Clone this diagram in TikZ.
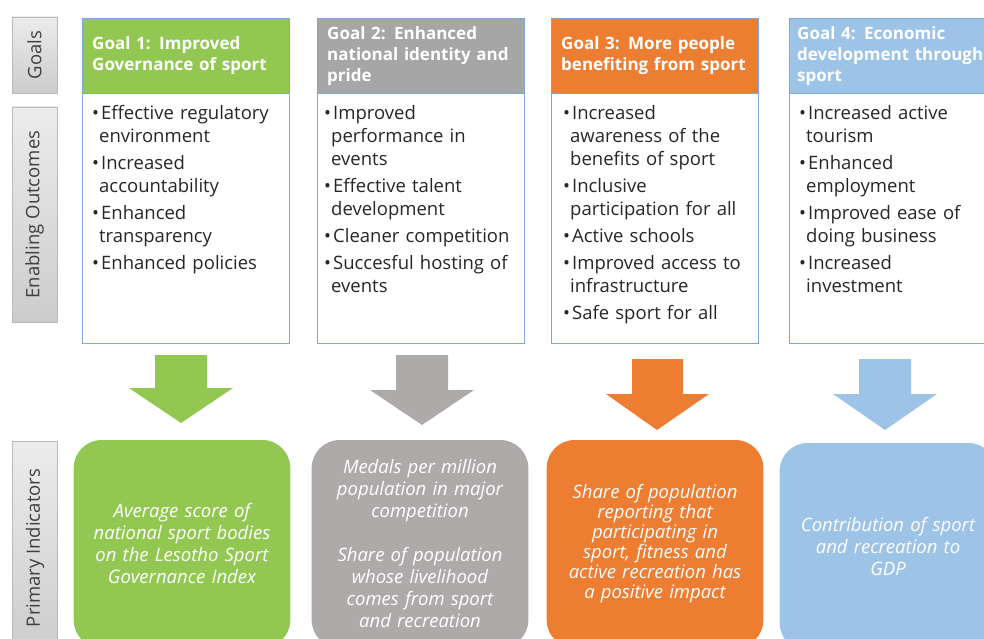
\documentclass[tikz,border=0pt]{standalone}
\usepackage{fontspec}
\setmainfont{Open Sans}
\usetikzlibrary{positioning}

\definecolor{goalgreen}{RGB}{146,200,82}
\definecolor{goalgray}{RGB}{166,166,166}
\definecolor{indgray}{RGB}{174,170,170}
\definecolor{goalorange}{RGB}{237,125,49}
\definecolor{goalblue}{RGB}{157,195,230}
\definecolor{frameblue}{RGB}{125,168,220}
\definecolor{labelgray}{RGB}{64,64,64}

% one bullet of the enabling outcomes
\newcommand{\outitem}[1]{\par\hangindent=7pt\hangafter=1\noindent\textbullet\hspace{2pt}#1\par\vspace{4pt}}

\tikzset{
  sidelabel/.style={draw=gray!55, top color=gray!15, bottom color=gray!40, rotate=90,
    minimum height=45pt, inner sep=0pt, text=labelgray, font=\fontsize{18.5}{20}\selectfont},
  goalhead/.style={draw=frameblue, anchor=north west, minimum width=207pt, minimum height=75pt,
    text width=187pt, inner xsep=10pt, align=left, text=white, font=\fontsize{17}{21}\selectfont\bfseries},
  goalbody/.style={draw=frameblue, anchor=north west, minimum width=207pt, minimum height=250pt, inner sep=0pt},
  outtext/.style={anchor=north west, text width=205pt, inner sep=0pt, text=black!85,
    font=\fontsize{18.5}{23}\selectfont},
  indicator/.style={rounded corners=28pt, minimum width=216pt, minimum height=208pt,
    text width=210pt, align=center, text=white, font=\fontsize{18.5}{22}\selectfont\itshape},
}

\begin{document}
\begin{tikzpicture}[x=1pt, y=1pt]
  \useasboundingbox (0,0) rectangle (984,-639);
  \clip (0,0) rectangle (984,-639);

  % row labels
  \node[sidelabel, minimum width=76pt] (lgoals) at (34.5,-55) {Goals};
  \node[sidelabel, minimum width=215pt] (lout) at (34.5,-214.5) {Enabling Outcomes};
  \node[sidelabel, minimum width=214pt] (lind) at (35,-548) {Primary Indicators};

  % goals
  \node[goalhead, fill=goalgreen] (g1) at (82,-18) {Goal 1: Improved\\Governance of sport};
  \node[goalhead, fill=goalgray] (g2) at (317,-18) {Goal 2: Enhanced\\national identity and\\pride};
  \node[goalhead, fill=goalorange] (g3) at (551,-18) {Goal 3: More people\\benefiting from sport};
  \node[goalhead, fill=goalblue, minimum width=215pt, text width=199pt, inner xsep=8pt] (g4) at (789,-18) {Goal 4: Economic\\development through\\sport};

  % enabling outcomes
  \node[goalbody] (b1) at (82,-93) {};
  \node[goalbody] (b2) at (317,-93) {};
  \node[goalbody] (b3) at (551,-93) {};
  \node[goalbody, minimum width=215pt] (b4) at (789,-93) {};

  \node[outtext, below right=3pt and 10pt of b1.north west] (o1) {%
    \outitem{Effective regulatory\newline environment}
    \outitem{Increased\newline accountability}
    \outitem{Enhanced\newline transparency}
    \outitem{Enhanced policies}};
  \node[outtext, below right=3pt and 7pt of b2.north west] (o2) {%
    \outitem{Improved\newline performance in\newline events}
    \outitem{Effective talent\newline development}
    \outitem{Cleaner competition}
    \outitem{Succesful hosting of\newline events}};
  \node[outtext, below right=3pt and 12pt of b3.north west] (o3) {%
    \outitem{Increased\newline awareness of the\newline benefits of sport}
    \outitem{Inclusive\newline participation for all}
    \outitem{Active schools}
    \outitem{Improved access to\newline infrastructure}
    \outitem{Safe sport for all}};
  \node[outtext, below right=3pt and 10pt of b4.north west] (o4) {%
    \outitem{Increased active\newline tourism}
    \outitem{Enhanced\newline employment}
    \outitem{Improved ease of\newline doing business}
    \outitem{Increased\newline investment}};

  % block arrows
  \fill[goalgreen] (155,-355) -- (207,-355) -- (207,-388) -- (233,-388) -- (181,-423) -- (129,-388) -- (155,-388) -- cycle;
  \fill[indgray] (396,-355) -- (448,-355) -- (448,-390) -- (474,-390) -- (422,-425) -- (370,-390) -- (396,-390) -- cycle;
  \fill[goalorange] (632,-359) -- (683,-359) -- (683,-394) -- (709,-394) -- (657,-430) -- (606,-394) -- (632,-394) -- cycle;
  \fill[goalblue] (859,-359) -- (911,-359) -- (911,-394) -- (937,-394) -- (885,-430) -- (833,-394) -- (859,-394) -- cycle;

  % primary indicators
  \node[indicator, fill=goalgreen] (i1) at (182,-544) {Average score of\\national sport bodies\\on the Lesotho Sport\\Governance Index};
  \node[indicator, fill=indgray] (i2) at (420,-544) {Medals per million\\population in major\\competition\\[22pt]Share of population\\whose livelihood\\comes from sport\\and recreation};
  \node[indicator, fill=goalorange, font=\fontsize{18.5}{20}\selectfont\itshape] (i3) at (655,-544) {Share of population\\reporting that\\participating in\\sport, fitness and\\active recreation has\\a positive impact};
  \node[indicator, fill=goalblue] (i4) at (888,-547) {Contribution of sport\\and recreation to\\GDP};
\end{tikzpicture}
\end{document}
